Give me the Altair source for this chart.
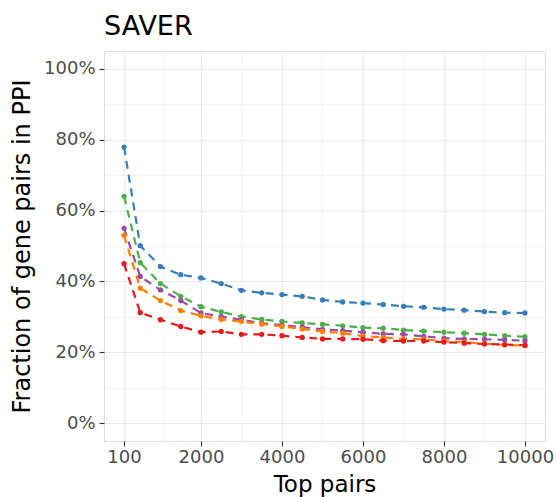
import altair as alt
import pandas as pd

top_pairs = [100, 500, 1000, 1500, 2000, 2500, 3000, 3500, 4000, 4500, 5000,
             5500, 6000, 6500, 7000, 7500, 8000, 8500, 9000, 9500, 10000]

series_names = ["Series 1", "Series 2", "Series 3", "Series 4", "Series 5"]
series_colors = ["#377EB8", "#4DAF4A", "#984EA3", "#FF7F00", "#E41A1C"]

s1 = [77.9, 50.1, 44.2, 41.9, 41.0, 39.4, 37.5, 36.8, 36.3, 35.8, 34.8,
      34.2, 33.9, 33.5, 33.0, 32.7, 32.2, 31.9, 31.5, 31.2, 31.1]
s2 = [64.0, 45.3, 39.4, 35.8, 32.9, 31.4, 30.1, 29.3, 28.7, 28.3, 27.9,
      27.5, 27.0, 26.8, 26.3, 26.0, 25.7, 25.4, 25.1, 24.7, 24.4]
s3 = [55.0, 41.4, 37.6, 34.6, 31.1, 30.1, 29.2, 28.2, 27.7, 27.1, 26.5,
      26.1, 25.7, 25.2, 25.1, 24.5, 24.0, 23.8, 23.7, 23.5, 23.3]
s4 = [53.0, 38.1, 34.6, 31.8, 30.3, 29.3, 28.7, 28.0, 27.3, 26.6, 25.9,
      25.4, 24.6, 24.2, 23.8, 23.7, 23.2, 22.9, 22.4, 22.1, 21.9]
s5 = [45.0, 31.2, 29.2, 27.3, 25.7, 25.9, 25.1, 25.1, 24.7, 24.2, 23.8,
      23.8, 23.7, 23.3, 23.2, 23.2, 22.9, 22.6, 22.4, 22.2, 22.0]

x_major = [100, 2000, 4000, 6000, 8000, 10000]
x_minor = [1050, 3000, 5000, 7000, 9000]
y_major = [0, 0.2, 0.4, 0.6, 0.8, 1.0]
y_minor = [0.1, 0.3, 0.5, 0.7, 0.9]

rows = []
for name, vals in zip(series_names, [s1, s2, s3, s4, s5]):
    for xv, yv in zip(top_pairs, vals):
        rows.append({"top_pairs": xv, "fraction": yv / 100.0, "method": name})
df = pd.DataFrame(rows)

FONT = "DejaVu Sans"
W, H = 441, 390

xscale = alt.Scale(domain=[-395, 10495], nice=False, zero=False)
yscale = alt.Scale(domain=[-0.05, 1.05], nice=False, zero=False)
cscale = alt.Scale(domain=series_names, range=series_colors)

minor = alt.Chart(df).mark_point(opacity=0).encode(
    x=alt.X("top_pairs:Q", scale=xscale,
            axis=alt.Axis(values=x_minor, grid=True, gridColor="#EBEBEB", gridWidth=0.6,
                          labels=False, ticks=False, domain=False, title=None, orient="top")),
    y=alt.Y("fraction:Q", scale=yscale,
            axis=alt.Axis(values=y_minor, grid=True, gridColor="#EBEBEB", gridWidth=0.6,
                          labels=False, ticks=False, domain=False, title=None, orient="right")),
)

lines = alt.Chart(df).mark_line(strokeDash=[8, 6], strokeWidth=2.2).encode(
    x=alt.X("top_pairs:Q", scale=xscale,
            axis=alt.Axis(values=x_major, format="d", grid=True, gridColor="#EBEBEB", gridWidth=1.2,
                          domain=False, ticks=True, tickColor="#333333", tickSize=5, tickWidth=1.1,
                          labelFont=FONT, labelFontSize=18, labelColor="#4D4D4D", labelPadding=2,
                          labelFlush=False, labelOverlap=False,
                          title="Top pairs", titleFont=FONT, titleFontSize=23, titleFontWeight="normal",
                          titleColor="#000000", titleX=W / 2, titleY=50, titleAlign="center",
                          titleBaseline="alphabetic", orient="bottom")),
    y=alt.Y("fraction:Q", scale=yscale,
            axis=alt.Axis(values=y_major, format=".0%", grid=True, gridColor="#EBEBEB", gridWidth=1.2,
                          domain=False, ticks=True, tickColor="#333333", tickSize=5, tickWidth=1.1,
                          labelFont=FONT, labelFontSize=18, labelColor="#4D4D4D", labelPadding=4,
                          labelFlush=False, labelOverlap=False,
                          title="Fraction of gene pairs in PPI", titleFont=FONT, titleFontSize=24,
                          titleFontWeight="normal", titleColor="#000000", titleX=-82, titleY=H / 2,
                          titleAlign="center", titleBaseline="middle", titleAngle=270, orient="left")),
    color=alt.Color("method:N", scale=cscale, legend=None),
    detail="method:N",
)

points = alt.Chart(df).mark_circle(size=28, opacity=1).encode(
    x=alt.X("top_pairs:Q", scale=xscale, axis=None),
    y=alt.Y("fraction:Q", scale=yscale, axis=None),
    color=alt.Color("method:N", scale=cscale, legend=None),
)

chart = alt.layer(minor, lines, points).resolve_axis(
    x="independent", y="independent"
).properties(
    width=W,
    height=H,
    title=alt.TitleParams("SAVER", anchor="start", frame="group", font=FONT, fontSize=27,
                          fontWeight="normal", color="#000000", offset=10),
    autosize=alt.AutoSizeParams(type="none"),
    padding={"left": 104, "top": 51, "right": 12, "bottom": 56},
).configure_view(
    stroke="#333333", strokeWidth=1.1, fill="white"
).configure(background="white")

chart.save("out.html", embed_options={"renderer": "svg", "actions": False})
